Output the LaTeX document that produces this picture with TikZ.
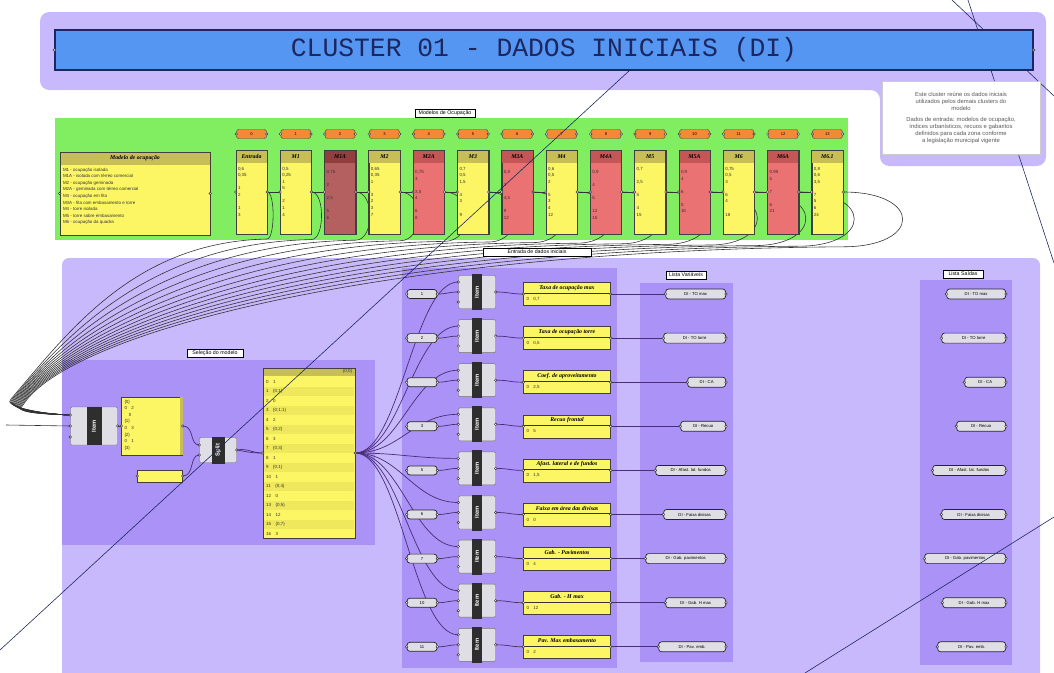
\documentclass[tikz,border=0pt]{standalone}
\usepackage{fontspec}
\setmainfont{Liberation Serif}
\setsansfont{Liberation Sans}
\setmonofont{Liberation Mono}
\usetikzlibrary{positioning, calc}

\definecolor{lilac}{RGB}{200,184,252}
\definecolor{lilacdk}{RGB}{170,146,246}
\definecolor{titleblue}{RGB}{84,150,242}
\definecolor{navy}{RGB}{30,38,96}
\definecolor{grpgreen}{RGB}{128,238,96}
\definecolor{pyellow}{RGB}{252,246,100}
\definecolor{pstripe}{RGB}{240,232,92}
\definecolor{phead}{RGB}{200,190,88}
\definecolor{pred}{RGB}{234,114,114}
\definecolor{predhd}{RGB}{196,86,86}
\definecolor{pdark}{RGB}{180,96,96}
\definecolor{pdarkhd}{RGB}{146,62,62}
\definecolor{slideorg}{RGB}{246,138,50}
\definecolor{compgrey}{RGB}{222,222,228}
\definecolor{wirecol}{RGB}{72,46,118}

\pgfdeclarelayer{groups}
\pgfdeclarelayer{wires}
\pgfsetlayers{groups,wires,main}

\begin{document}
\begin{tikzpicture}[x=0.03cm, y=-0.03cm,
sz/.style 2 args={minimum width=#1*0.03cm, minimum height=#2*0.03cm},
grouptag/.style={draw=black, fill=white, inner sep=1pt, font=\sffamily\fontsize{4.5}{5}\selectfont},
titlebar/.style={draw=navy, line width=1.2pt, fill=titleblue, inner sep=0pt, text=navy, font=\ttfamily\fontsize{22.5}{24}\selectfont},
notebox/.style={fill=white, draw=black!20, inner sep=1pt, align=center, text=black!65, font=\sffamily\fontsize{5}{6}\selectfont},
slider/.style={draw=black!70, fill=slideorg, rounded corners=2pt, inner sep=0pt, font=\sffamily\fontsize{3.5}{4}\selectfont},
panel/.style={draw=black!75, fill=pyellow, inner sep=0pt},
paneltitle/.style={font=\bfseries\itshape\fontsize{5}{5}\selectfont, inner sep=0pt},
paneltext/.style={font=\sffamily\fontsize{3.8}{5.6}\selectfont, align=left, inner sep=0pt, text=black!80},
capsule/.style={draw=black!85, line width=0.6pt, fill=compgrey, rounded corners=2.5pt, inner sep=0pt, font=\sffamily\fontsize{3.6}{4}\selectfont},
comp/.style={draw=black!55, fill=compgrey, rounded corners=1pt, inner sep=0pt},
compbar/.style={fill=black!82, text=white, inner sep=0pt, rotate=90, font=\sffamily\bfseries\fontsize{5}{5}\selectfont},
grip/.style={circle, draw=black!80, fill=white, inner sep=0pt, minimum size=2.2pt, line width=0.4pt},
wire/.style={draw=wirecol, line width=0.6pt},
bundle/.style={draw=black!80, line width=0.5pt},
farline/.style={draw=navy, line width=0.5pt}
]
\useasboundingbox (0,0) rectangle (1054,673);

% groups
\begin{pgfonlayer}{groups}
\fill[white] (0,0) rectangle (1054,673);
\fill[lilac, rounded corners=8pt] (40,12) -- (1046,12) -- (1046,166) -- (880,166) -- (880,90) -- (40,90) -- cycle;
\fill[grpgreen] (55,118) rectangle (848,240);
\fill[lilac, rounded corners=6pt] (62,258) rectangle (1040,690);
\fill[lilacdk] (62,360) rectangle (375,545);
\fill[lilacdk] (402,268) rectangle (617,668);
\fill[lilacdk] (640,283) rectangle (733,662);
\fill[lilacdk] (920,280) rectangle (1012,665);
\end{pgfonlayer}

% title and note
\node[titlebar, sz={978}{40}] (title) at (544,50) {CLUSTER 01 - DADOS INICIAIS (DI)};
\node[grip] at (title.west) {};
\node[grip] at (title.east) {};
\node[notebox, sz={158}{73}] (nota) at (961,118) {Este cluster reúne os dados iniciais\\utilizados pelos demais clusters do\\modelo\\[3pt]Dados de entrada: modelos de ocupação,\\índices urbanísticos, recuos e gabaritos\\definidos para cada zona conforme\\a legislação municipal vigente};

% modelos de ocupacao
\node[grouptag, sz={60}{8}] (tagmod) at (445,113) {Modelos de Ocupação};
\node[panel, sz={150}{83}] (mo) at (135,193.5) {};
\fill[phead] (mo.north west) rectangle ++(150,13);
\draw[black!75] (mo.north west) rectangle (mo.south east);
\node[paneltitle] at ($(mo.north)+(0,6.5)$) {Modelo de ocupação};
\node[paneltext, anchor=north west] at ($(mo.north west)+(3,16)$) {M1 - ocupação isolada\\M1A - isolada com térreo comercial\\M2 - ocupação geminada\\M2A - geminada com térreo comercial\\M3 - ocupação em fita\\M3A - fita com embasamento e torre\\M4 - torre isolada\\M5 - torre sobre embasamento\\M6 - ocupação da quadra};
\node[grip] at (mo.west) {};
\node[grip] at (mo.east) {};

\foreach \nm/\bd/\hd/\vals [count=\i from 0] in {
Entrada/pyellow/phead/{0,6\\0,35\\~\\1\\2\\~\\1\\3},
M1/pyellow/phead/{0,5\\0,25\\1\\5\\~\\2\\1\\4},
M1A/pdark/pdarkhd/{~\\0,75\\~\\2\\~\\2,5\\~\\5\\6},
M2/pyellow/phead/{0,65\\0,35\\1\\~\\3\\2\\3\\7},
M2A/pred/predhd/{~\\0,75\\3\\~\\3,5\\4\\~\\6\\8},
M3/pyellow/phead/{0,7\\0,5\\1,5\\~\\4\\3\\~\\9},
M3A/pred/predhd/{~\\0,8\\~\\3\\~\\4,5\\~\\9\\12},
M4/pyellow/phead/{0,6\\0,5\\2\\~\\5\\3\\4\\12},
M4A/pred/predhd/{~\\0,9\\~\\4\\~\\5\\~\\12\\15},
M5/pyellow/phead/{0,7\\~\\2,5\\~\\5\\~\\4\\15},
M5A/pred/predhd/{~\\0,9\\4\\~\\6\\~\\5\\18},
M6/pyellow/phead/{0,75\\0,5\\3\\~\\6\\4\\~\\18},
M6A/pred/predhd/{~\\0,95\\5\\~\\7\\~\\6\\21},
M6.1/pyellow/phead/{0,8\\0,6\\3,5\\~\\7\\5\\6\\24}}{
  \pgfmathsetmacro\cx{251.5+44.3*\i}
  \node[panel, fill=\bd, sz={31}{84}] (col\i) at (\cx,192) {};
  \fill[\hd] (col\i.north west) rectangle ++(31,13);
  \draw[black!75] (col\i.north west) rectangle (col\i.south east);
  \node[paneltitle] at ($(col\i.north)+(0,6.5)$) {\nm};
  \node[paneltext, anchor=north west] at ($(col\i.north west)+(2,17)$) {\vals};
  \node[slider, sz={30}{9}] (sl\i) at (\cx,134) {\i};
  \node[grip] at (sl\i.west) {};
  \node[grip] at (sl\i.east) {};
  \node[grip] at (col\i.west) {};
  \node[grip] at (col\i.east) {};
}

% selecao do modelo
\node[grouptag, sz={56}{8}] (tagsel) at (215,353) {Seleção do modelo};
\node[comp, sz={47}{38}] (itm) at (94,426) {};
\node[compbar, sz={38}{15}] at (itm.center) {Item};
\coordinate (itmA) at ($(itm.west)+(0,-11)$);
\coordinate (itmB) at ($(itm.west)+(0,0)$);
\coordinate (itmC) at ($(itm.west)+(0,11)$);
\coordinate (feed) at (6,425);
\foreach \p in {itmA,itmB,itmC,itm.east} {\node[grip] at (\p) {};}

\node[panel, sz={61}{58}] (lp) at (152,426) {};
\fill[phead] ($(lp.north east)+(-3,0)$) rectangle (lp.south east);
\node[paneltext, anchor=north west] at ($(lp.north west)+(3,3)$) {\{0\}\\0\quad 2\\\quad 0\\\{1\}\\0\quad 3\\\{2\}\\0\quad 1\\\{3\}};
\node[grip] at (lp.west) {};
\node[grip] at (lp.east) {};

\node[comp, sz={37}{25}] (spl) at (218,450) {};
\node[compbar, sz={27}{13}] at (spl.center) {Split};
\coordinate (splA) at ($(spl.west)+(0,-5)$);
\coordinate (splB) at ($(spl.west)+(0,5)$);
\foreach \p in {splA,splB,spl.east} {\node[grip] at (\p) {};}

\node[panel, sz={45}{12}] (sp) at (160,476) {};
\node[grip] at (sp.west) {};
\node[grip] at (sp.east) {};

\node[panel, sz={92}{170}] (bl) at (309,453) {};
\foreach \idx/\v in {0/1, 1/\{0;1\}, 2/0, 3/\{0;1;1\}, 4/2, 5/\{0;2\}, 6/3, 7/\{0;3\}, 8/1, 9/\{0;1\}, 10/1, 11/\{0;4\}, 12/0, 13/\{0;5\}, 14/12, 15/\{0;7\}, 16/3}{
  \ifodd\idx \fill[pstripe] (264,{377+9.5*\idx}) rectangle (354,{386.5+9.5*\idx}); \fi
  \node[paneltext, anchor=west] at (266,{381.7+9.5*\idx}) {\idx\quad\v};
}
\fill[phead] (bl.north west) rectangle ++(92,8);
\node[paneltext, anchor=east] at ($(bl.north east)+(-3,4)$) {\{0;0\}};
\draw[black!75] (bl.north west) rectangle (bl.south east);
\node[grip] at (bl.west) {};
\node[grip] at (bl.east) {};

% entrada de dados
\node[grouptag, sz={108}{8}] (tagent) at (537,252) {Entrada de dados iniciais};
\node[grouptag, sz={40}{8}] (tagvar) at (686,275) {Lista Variáveis};
\node[grouptag, sz={40}{8}] (tagsai) at (963,274) {Lista Saídas};

\foreach \val/\ttl/\bdy/\capt/\wa/\wb [count=\rw] in {
1/Taxa de ocupação max/{0\quad 0,7}/DI - TO max/60/59,
2/Taxa de ocupação torre/{0\quad 0,5}/DI - TO torre/62/64,
{}/Coef. de aproveitamento/{0\quad 2,5}/DI - CA/38/41,
3/Recuo frontal/{0\quad 5}/DI - Recuo/45/49,
5/Afast. lateral e de fundos/{0\quad 1,5}/DI - Afast. lat. fundos/70/73,
6/Faixa em área das divisas/{0\quad 0}/DI - Faixa divisas/62/64,
7/Gab. - Pavimentos/{0\quad 4}/DI - Gab. pavimentos/80/81,
10/Gab. - H max/{0\quad 12}/DI - Gab. H max/60/63,
11/Pav. Max embasamento/{0\quad 2}/DI - Pav. emb./67/68}{
  \pgfmathsetmacro\ry{294+44.1*(\rw-1)}
  \node[capsule, sz={30}{9}] (v\rw) at (422,\ry) {\val};
  \node[comp, sz={37}{33}] (it\rw) at (477,\ry-2) {};
  \node[compbar, sz={36}{10}] at (it\rw.center) {Item};
  \coordinate (itA\rw) at ($(it\rw.west)+(0,-10)$);
  \coordinate (itB\rw) at ($(it\rw.west)+(0,0)$);
  \coordinate (itC\rw) at ($(it\rw.west)+(0,10)$);
  \node[panel, sz={87}{23}] (pn\rw) at (567,\ry) {};
  \draw[black!80, line width=0.6pt] ($(pn\rw.north west)+(0,11)$) -- ++(87,0);
  \node[paneltitle] at ($(pn\rw.north)+(0,5.5)$) {\ttl};
  \node[paneltext, anchor=west] at ($(pn\rw.west)+(3,5)$) {\bdy};
  \node[capsule, sz={\wa}{10}, anchor=east] (la\rw) at (726,\ry) {\capt};
  \node[capsule, sz={\wb}{10}, anchor=east] (lb\rw) at (1006,\ry) {\capt};
  \foreach \p in {v\rw.west,v\rw.east,itA\rw,itB\rw,itC\rw,it\rw.east,pn\rw.west,pn\rw.east,la\rw.west,la\rw.east,lb\rw.west,lb\rw.east} {\node[grip] at (\p) {};}
}

% wires
\begin{pgfonlayer}{wires}
\foreach \i in {0,...,13} {
  \pgfmathsetmacro\cx{251.5+44.3*\i}
  \pgfmathsetmacro\ex{\cx+15.5}
  \pgfmathsetmacro\lp{8+5.5*\i}
  \pgfmathsetmacro\qy{239+0.6*\i}
  \pgfmathsetmacro\ca{\cx-0.55*(\cx-40)}
  \pgfmathsetmacro\hx{11+0.9*\i}
  \pgfmathsetmacro\hy{399+0.5*\i}
  \draw[bundle] (col\i.east) .. controls +(\lp,0) and +(\lp,0) .. (\ex,\qy) .. controls (\ca,\qy+3) and (70,330) .. (\hx,\hy) .. controls (\hx-9,\hy+7) and (40,414) .. (itmA);
}
\foreach \i in {0,...,12} {
  \pgfmathtruncatemacro\j{\i+1}
  \draw[bundle] (col\i.east) -- (col\j.west);
}
\draw[bundle] (feed) -- (itmB);
\draw[wire] (itm.east) -- (lp.west);
\draw[wire] (lp.east) .. controls +(12,0) and +(-10,0) .. (splA);
\draw[wire] (sp.east) .. controls +(12,0) and +(-10,0) .. (splB);
\draw[wire] (spl.east) .. controls +(12,-2) and +(-12,0) .. (bl.west);
\draw[wire] (spl.east) .. controls +(12,2) and +(-12,0) .. (bl.west);
\foreach \rw in {1,...,9} {
  \draw[wire] (bl.east) .. controls +(45,0) and +(-45,0) .. (itA\rw);
  \draw[wire] (v\rw.east) .. controls +(10,0) and +(-10,0) .. (itB\rw);
  \draw[wire] (it\rw.east) .. controls +(14,0) and +(-14,0) .. (pn\rw.west);
  \draw[wire] (pn\rw.east) -- (la\rw.west);
}
\draw[farline] (952,0) -- (1054,96);
\draw[farline] (968,0) -- (1054,263);
\end{pgfonlayer}

% long wires crossing the canvas
\draw[farline] (630,70) -- (0,650);
\draw[farline] (805,673) -- (1054,517);
\end{tikzpicture}
\end{document}
